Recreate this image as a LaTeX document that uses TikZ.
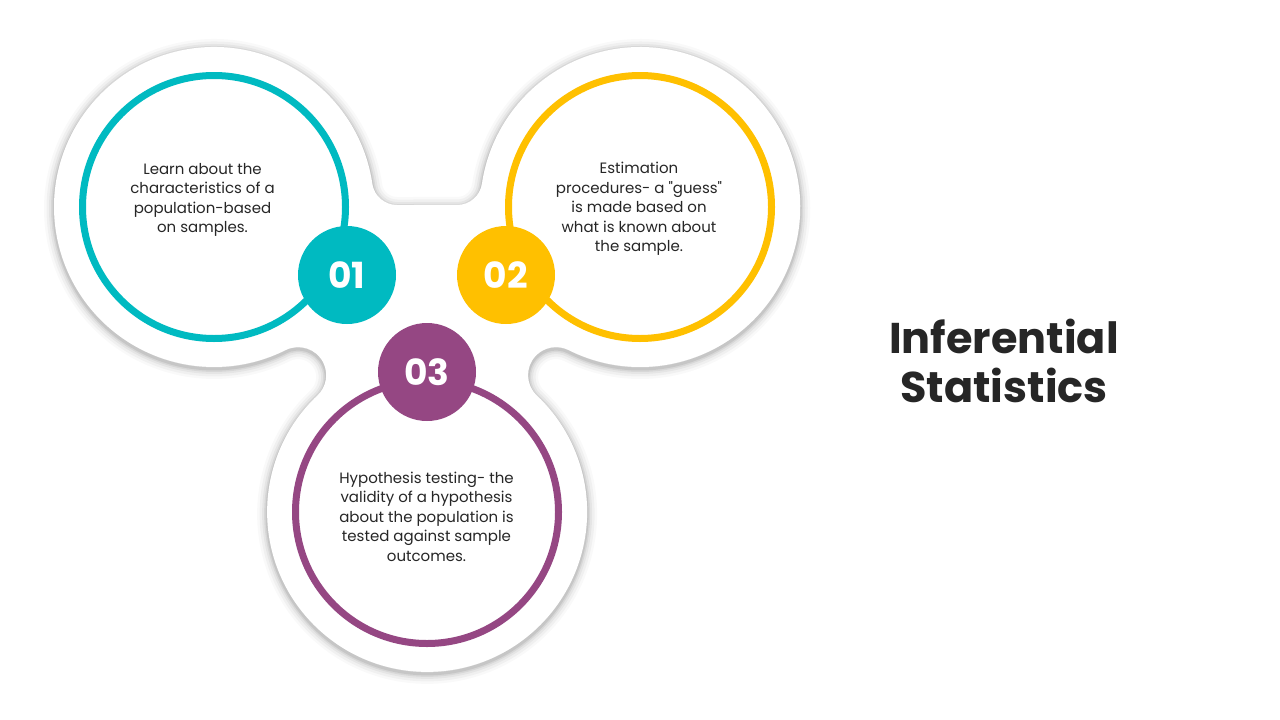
\documentclass[tikz,border=0pt]{standalone}
\usepackage{fontspec}
\setmainfont{Poppins}[Ligatures=TeXOff]
\definecolor{teal1}{RGB}{0,186,193}
\definecolor{gold1}{RGB}{255,192,0}
\definecolor{plum1}{RGB}{149,71,131}
\definecolor{ink}{RGB}{38,38,38}
\newcommand\blobshape{(372.3,-183.6) arc[start angle=8.4, end angle=296.6, radius=160pt]
 arc[start angle=116.6, end angle=-46.7, radius=28pt]
 arc[start angle=133.3, end angle=406.7, radius=160pt]
 arc[start angle=226.7, end angle=63.4, radius=28pt]
 arc[start angle=243.4, end angle=531.6, radius=160pt]
 arc[start angle=-8.3, end angle=-90, radius=25pt]
 -- (397,-205)
 arc[start angle=-90, end angle=-171.7, radius=25pt] -- cycle}
\tikzset{
  ring/.style={circle, draw=#1, line width=7pt, minimum size=263pt, inner sep=0pt},
  badge/.style={circle, fill=#1, minimum size=98pt, inner sep=0pt, text=white,
     font=\fontsize{36}{36}\selectfont\bfseries},
  body/.style={align=center, text=ink, font=\fontsize{15}{19.5}\selectfont},
  title/.style={align=center, text=ink, font=\fontsize{43}{49}\selectfont\bfseries}
}
\begin{document}
\begin{tikzpicture}[x=1pt,y=1pt]
\useasboundingbox[fill=white] (0,0) rectangle (1280,-720);
% soft shadow of the white base shape
\begin{scope}[yshift=-2pt]
\foreach \w/\o in {20/0.025, 15/0.035, 10/0.045, 6/0.06, 3/0.08}
  \draw[line width=\w pt, draw=black, draw opacity=\o, line join=round] \blobshape;
\end{scope}
\fill[white] \blobshape;
% rings
\node[ring=teal1] (r1) at (214,-207) {};
\node[ring=gold1] (r2) at (640,-207) {};
\node[ring=plum1] (r3) at (427,-512) {};
% badges
\node[badge=teal1] (b1) at (347,-275) {01};
\node[badge=gold1] (b2) at (506,-275) {02};
\node[badge=plum1] (b3) at (427,-372) {03};
% texts
\node[body] (t1) at (202.5,-200) {Learn about the\\characteristics of a\\population-based\\on samples.};
\node[body] (t2) at (639,-209) {Estimation\\procedures- a "guess"\\is made based on\\what is known about\\the sample.};
\node[body] (t3) at (426.5,-516.5) {Hypothesis testing- the\\validity of a hypothesis\\about the population is\\tested against sample\\outcomes.};
\node[title] (ttl) at (1004,-361) {Inferential\\Statistics};
\end{tikzpicture}
\end{document}
